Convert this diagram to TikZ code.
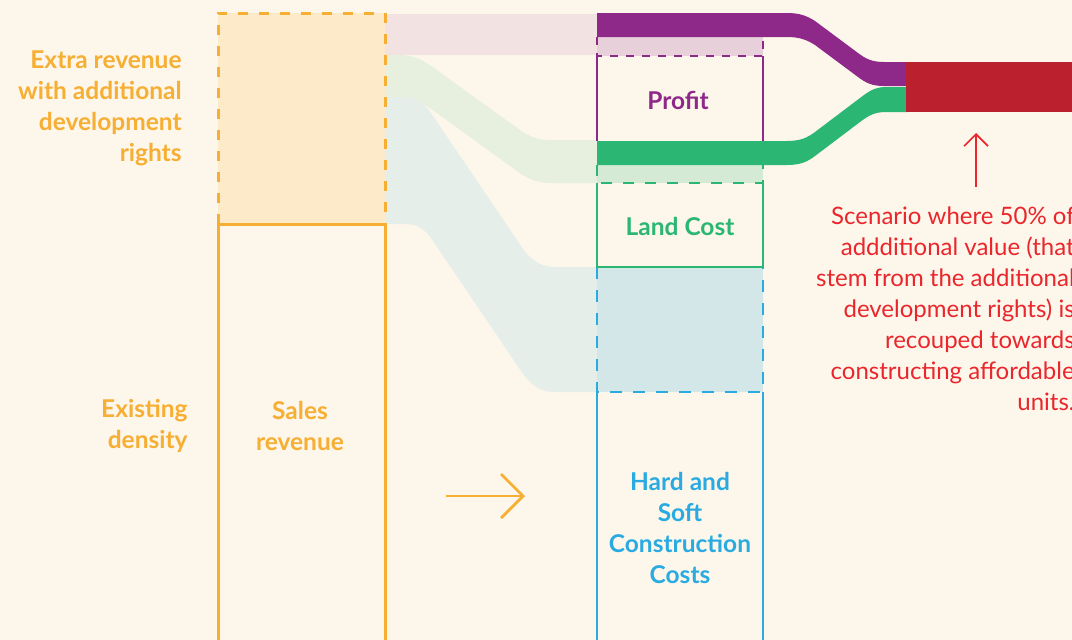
\documentclass[tikz,border=0pt]{standalone}
\usepackage{fontspec}
\setmainfont{Lato}
\usetikzlibrary{arrows.meta}

\definecolor{bgcream}{RGB}{253,246,235}
\definecolor{revorange}{RGB}{246,174,51}
\definecolor{revfill}{RGB}{252,234,200}
\definecolor{profitpurple}{RGB}{142,40,137}
\definecolor{landgreen}{RGB}{43,182,115}
\definecolor{costblue}{RGB}{41,171,226}
\definecolor{scenred}{RGB}{186,32,46}
\definecolor{notered}{RGB}{234,38,44}
\definecolor{pinkband}{RGB}{243,226,226}
\definecolor{greenband}{RGB}{231,239,223}
\definecolor{blueband}{RGB}{230,238,234}
\definecolor{lightpurple}{RGB}{232,208,218}
\definecolor{lightgreen}{RGB}{213,234,212}
\definecolor{lightblue}{RGB}{211,231,233}

\tikzset{every picture/.style={line width=0.75pt}}
\tikzset{
  label/.style={font=\bfseries\fontsize{24.5}{31}\selectfont, align=center, inner sep=0pt},
  note/.style={font=\fontsize{24}{31}\selectfont, align=right, inner sep=0pt, text=notered},
  orangeedge/.style={draw=revorange, line width=3pt},
  orangedash/.style={orangeedge, dash pattern=on 10pt off 11pt},
  purpleedge/.style={draw=profitpurple, line width=2.6pt},
  purpledash/.style={purpleedge, dash pattern=on 8pt off 8pt},
  greenedge/.style={draw=landgreen, line width=2.6pt},
  greendash/.style={greenedge, dash pattern=on 11pt off 11pt},
  blueedge/.style={draw=costblue, line width=2.6pt},
  bluedash/.style={blueedge, dash pattern=on 12pt off 11pt},
}

\begin{document}
\begin{tikzpicture}[x=1pt,y=1pt,yscale=-1,xscale=1]
	\useasboundingbox (0,0) rectangle (1072,640);
	\fill [bgcream] (0,0) rectangle (1072,640);
	\clip (0,0) rectangle (1072,640);

	%Shape: Band [id:revenue to profit]
	\fill [pinkband] (385,14) rectangle (597,55);
	%Shape: Band [id:revenue to land]
	\fill [greenband] (385,55) -- (400,55) .. controls (415,55) and (424,61) .. (434,68) -- (517,128) .. controls (528,136) and (537,140) .. (550,140) -- (597,140) -- (597,183) -- (550,183) .. controls (537,183) and (528,179) .. (517,171) -- (434,111) .. controls (424,104) and (415,97) .. (400,97) -- (385,97) -- cycle ;
	%Shape: Band [id:revenue to construction]
	\fill [blueband] (385,97) -- (405,97) .. controls (418,97) and (425,104) .. (433,116) -- (517,240) .. controls (526,254) and (535,267) .. (555,267) -- (597,267) -- (597,392) -- (555,392) .. controls (535,392) and (526,379) .. (517,365) -- (433,241) .. controls (425,229) and (418,224) .. (405,224) -- (385,224) -- cycle ;

	%Shape: Rectangle [id:extra revenue]
	\fill [revfill] (218,13) rectangle (385,224);
	\draw [orangedash] (218,224) -- (218,13) -- (385,13) -- (385,224) ;
	%Shape: Rectangle [id:sales revenue]
	\draw [orangeedge] (218,660) -- (218,224) -- (385,224) -- (385,660) ;

	%Shape: Rectangle [id:extra profit]
	\fill [lightpurple] (597,37) rectangle (763,56);
	\draw [purpledash] (597,37) -- (597,56) -- (763,56) -- (763,37) ;
	%Shape: Rectangle [id:profit]
	\draw [purpleedge] (597,56) -- (597,141) ;
	\draw [purpleedge] (763,56) -- (763,141) ;

	%Shape: Rectangle [id:extra land]
	\fill [lightgreen] (597,165) rectangle (763,183);
	\draw [greendash] (597,165) -- (597,183) -- (763,183) -- (763,165) ;

	%Shape: Rectangle [id:extra construction]
	\fill [lightblue] (597,267) rectangle (763,392);
	\draw [bluedash] (597,267) -- (597,392) -- (763,392) -- (763,267) ;
	%Shape: Rectangle [id:construction]
	\draw [blueedge] (597,660) -- (597,392) ;
	\draw [blueedge] (763,660) -- (763,392) ;
	%Shape: Rectangle [id:land]
	\draw [greenedge] (597,183) -- (597,267) -- (763,267) -- (763,183) ;

	%Shape: Flow [id:profit share]
	\fill [profitpurple] (597,13) -- (787,13) .. controls (800,13) and (807,16) .. (815,21) -- (858,53) .. controls (866,59) and (872,62) .. (884,62) -- (907,62) -- (907,86) -- (884,86) .. controls (872,86) and (866,83) .. (858,77) -- (815,45) .. controls (807,40) and (800,37) .. (787,37) -- (597,37) -- cycle ;
	%Shape: Flow [id:land share]
	\fill [landgreen] (597,141) -- (787,141) .. controls (800,141) and (807,138) .. (815,132) -- (860,98) .. controls (868,92) and (874,87) .. (886,87) -- (907,87) -- (907,112) -- (886,112) .. controls (874,112) and (868,116) .. (860,122) -- (815,156) .. controls (807,162) and (800,165) .. (787,165) -- (597,165) -- cycle ;
	%Shape: Rectangle [id:affordable units]
	\fill [scenred] (906,62) rectangle (1072,112);

	%Straight Lines [id:orange arrow]
	\coordinate (flowstart) at (446,496);
	\coordinate (flowend) at (525,496);
	\draw [draw=revorange, line width=2.8pt, -{Straight Barb[length=22pt,width=44pt]}] (flowstart) -- (flowend) ;
	%Straight Lines [id:red arrow]
	\coordinate (notebase) at (976,187);
	\coordinate (notetip) at (976,133);
	\draw [draw=notered, line width=1.6pt, -{Straight Barb[length=12pt,width=24pt]}] (notebase) -- (notetip) ;

	% Text Node
	\node [label, text=revorange, anchor=east, align=right] (extra) at (182,108) {Extra revenue\\with additional\\development\\rights};
	% Text Node
	\node [label, text=revorange, anchor=east, align=right] (existing) at (188,426) {Existing\\density};
	% Text Node
	\node [label, text=revorange] (sales) at (300,426) {Sales\\revenue};
	% Text Node
	\node [label, text=profitpurple] (profit) at (678,100) {Profit};
	% Text Node
	\node [label, text=landgreen] (landcost) at (680,226) {Land Cost};
	% Text Node
	\node [label, text=costblue] (hardsoft) at (680,528) {Hard and\\Soft\\Construction\\Costs};
	% Text Node
	\node [note, anchor=east] (scenario) at (1075,309) {Scenario where 50\% of\\addditional value (that\\stem from the additional\\development rights) is\\recouped towards\\constructing affordable\\units.};

\end{tikzpicture}
\end{document}
